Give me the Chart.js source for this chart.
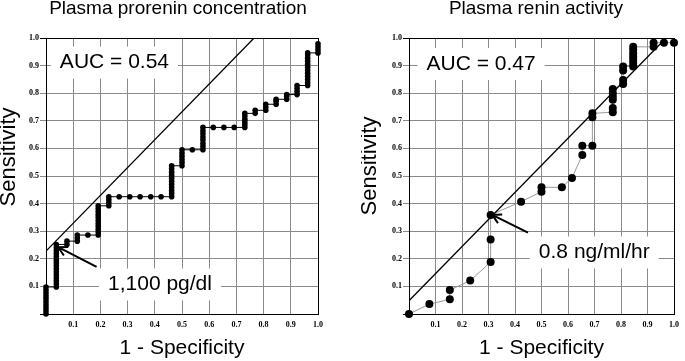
<!DOCTYPE html>
<html>
<head>
<meta charset="utf-8">
<script src="https://cdn.jsdelivr.net/npm/chart.js@4"></script>
<style>
  body { margin: 0; background: #fff; }
  canvas { position: absolute; top: 0; }
  #prorenin { left: 0; }
  #renin { left: 361px; }
</style>
</head>
<body>
<canvas id="prorenin" width="340" height="361"></canvas>
<canvas id="renin" width="324" height="361"></canvas>
<script>
// Plasma prorenin concentration ROC (1 - specificity, sensitivity)
const prorX = [
  0, 0, 0, 0, 0, 0, 0, 0, 0, 0,
  0.038, 0.038, 0.038, 0.038, 0.038, 0.038, 0.038, 0.038, 0.038, 0.038, 0.038, 0.038, 0.038, 0.038, 0.038,
  0.077, 0.077,
  0.115, 0.115, 0.115,
  0.154,
  0.192, 0.192, 0.192, 0.192, 0.192, 0.192, 0.192, 0.192, 0.192, 0.192, 0.192,
  0.231, 0.231, 0.231, 0.231,
  0.269, 0.308, 0.346, 0.385, 0.423,
  0.462, 0.462, 0.462, 0.462, 0.462, 0.462, 0.462, 0.462, 0.462, 0.462, 0.462,
  0.5, 0.5, 0.5, 0.5, 0.5, 0.5,
  0.538,
  0.577, 0.577, 0.577, 0.577, 0.577, 0.577, 0.577, 0.577,
  0.615, 0.654, 0.692,
  0.731, 0.731, 0.731, 0.731, 0.731, 0.731,
  0.769, 0.769,
  0.808, 0.808, 0.808,
  0.846, 0.846, 0.846,
  0.885, 0.885, 0.885,
  0.923, 0.923, 0.923, 0.923,
  0.962, 0.962, 0.962, 0.962, 0.962, 0.962, 0.962, 0.962, 0.962, 0.962, 0.962, 0.962,
  1, 1, 1, 1
];
const prorY = [
  0, 0.011, 0.022, 0.033, 0.044, 0.055, 0.065, 0.076, 0.087, 0.098,
  0.098, 0.109, 0.120, 0.131, 0.142, 0.153, 0.164, 0.175, 0.186, 0.197, 0.208, 0.219, 0.230, 0.241, 0.252,
  0.252, 0.264,
  0.264, 0.275, 0.286,
  0.286,
  0.286, 0.297, 0.307, 0.318, 0.328, 0.339, 0.350, 0.360, 0.371, 0.381, 0.392,
  0.392, 0.403, 0.414, 0.425,
  0.425, 0.425, 0.425, 0.425, 0.425,
  0.425, 0.436, 0.447, 0.458, 0.470, 0.481, 0.492, 0.503, 0.514, 0.526, 0.537,
  0.537, 0.549, 0.560, 0.572, 0.583, 0.595,
  0.595,
  0.595, 0.607, 0.618, 0.630, 0.641, 0.653, 0.664, 0.676,
  0.676, 0.676, 0.676,
  0.676, 0.686, 0.696, 0.706, 0.717, 0.727,
  0.727, 0.738,
  0.738, 0.749, 0.760,
  0.760, 0.771, 0.778,
  0.778, 0.789, 0.795,
  0.795, 0.806, 0.817, 0.828,
  0.828, 0.839, 0.850, 0.861, 0.872, 0.883, 0.894, 0.905, 0.916, 0.927, 0.938, 0.946,
  0.946, 0.957, 0.968, 0.979
];

// Plasma renin activity ROC
const reninX = [0, 0.077, 0.154, 0.154, 0.231, 0.308, 0.308, 0.308, 0.423, 0.5, 0.5, 0.577, 0.615,
  0.654, 0.654, 0.692, 0.692, 0.692, 0.769, 0.769, 0.769, 0.769, 0.769, 0.769,
  0.808, 0.808, 0.808, 0.808, 0.846, 0.846, 0.846, 0.846, 0.846, 0.846, 0.846,
  0.923, 0.923, 0.962, 1];
const reninY = [0, 0.036, 0.053, 0.087, 0.121, 0.188, 0.27, 0.359, 0.407, 0.443, 0.459, 0.459, 0.493,
  0.576, 0.61, 0.61, 0.713, 0.727, 0.731, 0.746, 0.776, 0.788, 0.80, 0.815,
  0.833, 0.848, 0.882, 0.897, 0.897, 0.909, 0.921, 0.933, 0.945, 0.957, 0.968,
  0.968, 0.983, 0.983, 0.983];

// reference lines drawn across each panel
const prorLineX = [0, 0.765];
const prorLineY = [0.228, 1];
const reninLineX = [0, 0.97];
const reninLineY = [0.048, 1];

const axisTicks = [0, 0.1, 0.2, 0.3, 0.4, 0.5, 0.6, 0.7, 0.8, 0.9, 1];

const SANS = "'Liberation Sans', Arial, Helvetica, sans-serif";

function pairs(xs, ys) {
  return xs.map((x, i) => ({ x: x, y: ys[i] }));
}

// white boxed labels, arrows and the free text around each panel
const annotate = {
  id: 'annotate',
  beforeDatasetsDraw(chart, args, opts) {
    const ctx = chart.ctx;
    const sx = chart.scales.x, sy = chart.scales.y;
    ctx.save();
    ctx.font = '21px ' + SANS;
    ctx.textBaseline = 'middle';
    ctx.textAlign = 'left';
    opts.labels.forEach(l => {
      const px = sx.getPixelForValue(l.x);
      const py = sy.getPixelForValue(l.y);
      const w = ctx.measureText(l.text).width;
      ctx.fillStyle = '#fff';
      ctx.fillRect(px - 9, py - 16, w + 18, 32);
      ctx.fillStyle = '#000';
      ctx.fillText(l.text, px, py);
    });
    ctx.restore();
  },
  afterDatasetsDraw(chart, args, opts) {
    const ctx = chart.ctx;
    const sx = chart.scales.x, sy = chart.scales.y;
    const a = opts.arrow;
    const x1 = sx.getPixelForValue(a.from[0]), y1 = sy.getPixelForValue(a.from[1]);
    const x2 = sx.getPixelForValue(a.to[0]), y2 = sy.getPixelForValue(a.to[1]);
    const ang = Math.atan2(y2 - y1, x2 - x1);
    ctx.save();
    ctx.strokeStyle = '#000';
    ctx.lineWidth = 2;
    ctx.beginPath();
    ctx.moveTo(x1, y1);
    ctx.lineTo(x2, y2);
    ctx.moveTo(x2 - 10 * Math.cos(ang - 0.5), y2 - 10 * Math.sin(ang - 0.5));
    ctx.lineTo(x2, y2);
    ctx.lineTo(x2 - 10 * Math.cos(ang + 0.5), y2 - 10 * Math.sin(ang + 0.5));
    ctx.stroke();
    ctx.restore();
  },
  afterDraw(chart, args, opts) {
    const ctx = chart.ctx;
    ctx.save();
    ctx.fillStyle = '#000';
    ctx.textBaseline = 'middle';
    ctx.textAlign = 'center';
    ctx.font = '19px ' + SANS;
    ctx.fillText(opts.title, opts.titleX, 9);
    ctx.font = '22px ' + SANS;
    ctx.translate(opts.yTitleX, opts.yTitleY);
    ctx.rotate(-Math.PI / 2);
    ctx.fillText('Sensitivity', 0, 0);
    ctx.restore();
  }
};

function gridColor(c) {
  const v = c.tick.value;
  return (Math.abs(v) < 1e-9 || Math.abs(v - 1) < 1e-9) ? '#000' : '#8a8a8a';
}

function tickLabel(v) {
  return Math.abs(v) < 1e-9 ? '' : v.toFixed(1);
}

function makeChart(id, rocX, rocY, lineX, lineY, pointRadius, rocLine, yWidth, rightPad, ann) {
  return new Chart(document.getElementById(id), {
    type: 'scatter',
    data: {
      datasets: [
        {
          data: pairs(lineX, lineY),
          showLine: true,
          borderColor: '#000',
          borderWidth: 1.3,
          pointRadius: 0
        },
        {
          data: pairs(rocX, rocY),
          showLine: true,
          borderColor: rocLine,
          borderWidth: 1,
          backgroundColor: '#000',
          pointBackgroundColor: '#000',
          pointBorderWidth: 0,
          pointRadius: pointRadius,
          clip: false
        }
      ]
    },
    options: {
      responsive: false,
      animation: false,
      devicePixelRatio: 1,
      layout: { padding: { top: 38, right: rightPad, left: 0, bottom: 0 } },
      plugins: {
        legend: { display: false },
        tooltip: { enabled: false },
        annotate: ann
      },
      scales: {
        x: {
          type: 'linear',
          min: 0,
          max: 1,
          afterBuildTicks: s => { s.ticks = axisTicks.map(v => ({ value: v })); },
          afterFit: s => { s.height = 47; },
          grid: { color: gridColor, lineWidth: 1, drawTicks: false },
          border: { color: '#000', width: 1 },
          ticks: {
            padding: 6,
            color: '#000',
            font: { family: "'Liberation Serif', 'Times New Roman', serif", size: 8, weight: 'bold' },
            callback: tickLabel,
            maxRotation: 0
          },
          title: {
            display: true,
            text: '1 - Specificity',
            color: '#000',
            font: { family: SANS, size: 21 },
            padding: { top: 0, bottom: 0 }
          }
        },
        y: {
          type: 'linear',
          min: 0,
          max: 1,
          afterBuildTicks: s => { s.ticks = axisTicks.map(v => ({ value: v })); },
          afterFit: s => { s.width = yWidth; },
          grid: { color: gridColor, lineWidth: 1, drawTicks: true, tickLength: 6 },
          border: { color: '#000', width: 1 },
          ticks: {
            padding: 1,
            color: '#000',
            font: { family: "'Liberation Serif', 'Times New Roman', serif", size: 8, weight: 'bold' },
            callback: tickLabel
          }
        }
      }
    },
    plugins: [annotate]
  });
}

makeChart('prorenin', prorX, prorY, prorLineX, prorLineY, 2.8, '#000', 46, 22, {
  title: 'Plasma prorenin concentration',
  titleX: 178,
  yTitleX: 9,
  yTitleY: 157,
  labels: [
    { text: 'AUC = 0.54', x: 0.051, y: 0.911 },
    { text: '1,100 pg/dl', x: 0.228, y: 0.107 }
  ],
  arrow: { from: [0.186, 0.171], to: [0.045, 0.242] }
});

makeChart('renin', reninX, reninY, reninLineX, reninLineY, 4, '#999', 48, 5, {
  title: 'Plasma renin activity',
  titleX: 175,
  yTitleX: 9,
  yTitleY: 166,
  labels: [
    { text: 'AUC = 0.47', x: 0.066, y: 0.906 },
    { text: '0.8 ng/ml/hr', x: 0.49, y: 0.223 }
  ],
  arrow: { from: [0.449, 0.295], to: [0.314, 0.359] }
});
</script>
</body>
</html>
